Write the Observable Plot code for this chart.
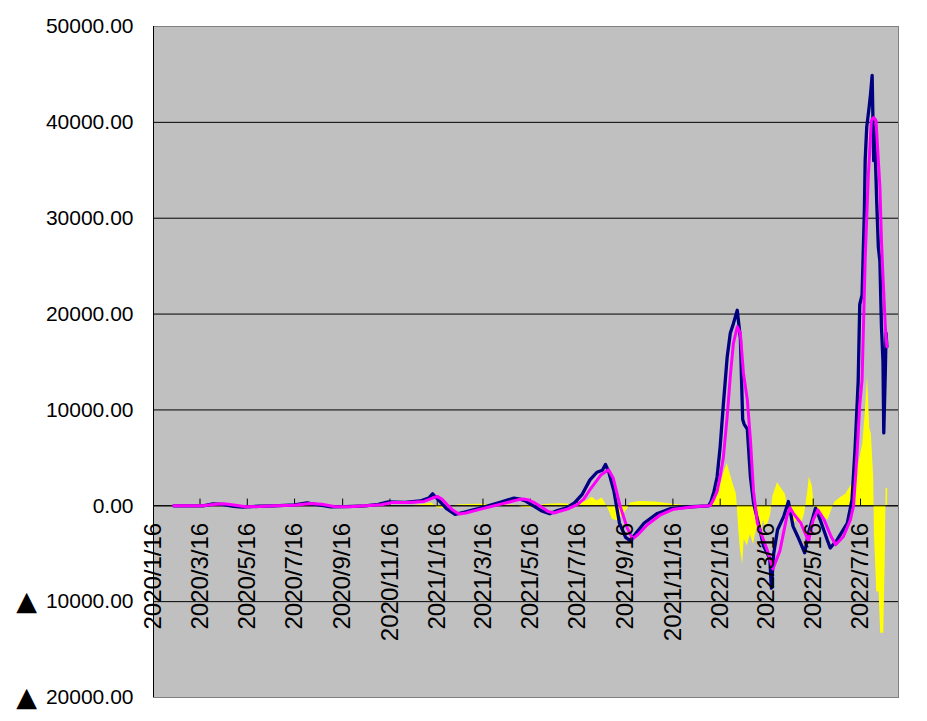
<!DOCTYPE html>
<html>
<head>
<meta charset="utf-8">
<script src="https://cdn.jsdelivr.net/npm/d3@7"></script>
<script src="https://cdn.jsdelivr.net/npm/@observablehq/plot@0.6"></script>
<style>
  html, body { margin: 0; padding: 0; background: #ffffff; }
  #chart svg { display: block; }
</style>
</head>
<body>
<div id="chart"></div>
<script>
// ---- Data ----
const tickLabels = ["2020/1/16","2020/3/16","2020/5/16","2020/7/16","2020/9/16","2020/11/16",
  "2021/1/16","2021/3/16","2021/5/16","2021/7/16","2021/9/16","2021/11/16",
  "2022/1/16","2022/3/16","2022/5/16","2022/7/16"];
const yTicks = [-20000, -10000, 0, 10000, 20000, 30000, 40000, 50000];
const xDomain = ["2020-01-16", "2022-09-03"];

const magentaDates = ["2020-02-11","2020-03-20","2020-04-05","2020-04-16","2020-05-01","2020-05-14","2020-06-01","2020-06-20",
  "2020-07-16","2020-08-05","2020-08-20","2020-09-05","2020-09-25","2020-10-15","2020-11-05","2020-11-18","2020-12-10",
  "2020-12-30","2021-01-10","2021-01-16","2021-01-22","2021-01-29","2021-02-05","2021-02-13","2021-02-22","2021-03-13",
  "2021-04-08","2021-04-30","2021-05-07","2021-05-14","2021-05-22","2021-06-01","2021-06-08","2021-06-16","2021-06-24",
  "2021-07-03","2021-07-16","2021-07-24","2021-08-02","2021-08-15","2021-08-25","2021-08-31","2021-09-09","2021-09-18",
  "2021-09-25","2021-10-02","2021-10-14","2021-10-31","2021-11-17","2021-12-13","2022-01-03","2022-01-07","2022-01-12",
  "2022-01-16","2022-01-20","2022-01-25","2022-01-29","2022-02-02","2022-02-07","2022-02-11","2022-02-15","2022-02-20",
  "2022-02-24","2022-02-28","2022-03-05","2022-03-09","2022-03-18","2022-03-25","2022-04-03","2022-04-12","2022-04-16",
  "2022-04-20","2022-04-30","2022-05-10","2022-05-16","2022-05-22","2022-05-30","2022-06-08","2022-06-14","2022-06-24",
  "2022-07-03","2022-07-07","2022-07-10","2022-07-13","2022-07-15","2022-07-18","2022-07-22","2022-07-26","2022-07-30",
  "2022-08-02","2022-08-05","2022-08-07","2022-08-10","2022-08-12","2022-08-14","2022-08-17","2022-08-19"];
const magentaValues = [0,0,150,220,50,-100,-80,0,
  50,250,150,-80,-100,0,100,330,350,
  450,800,980,700,100,-450,-850,-750,-350,
  170,620,700,600,300,-200,-600,-750,-550,
  -350,150,700,1800,3200,3750,2900,-50,-2300,
  -3450,-3000,-1980,-940,-350,-100,0,600,1500,
  3060,5000,9300,13470,16950,18680,18000,13820,11040,
  6875,1500,-1800,-2700,-4700,-6600,-4700,-1100,-200,
  -760,-1800,-3700,-1460,-420,-1460,-3200,-4060,-3200,
  -1460,0,3500,7500,10500,13100,25600,34300,40200,
  40500,40200,37400,33300,27700,23900,18700,16600];

const navyDates = ["2020-02-11","2020-03-20","2020-04-02","2020-04-14","2020-04-28","2020-05-10","2020-06-01","2020-06-20",
  "2020-07-16","2020-08-01","2020-08-16","2020-09-01","2020-09-20","2020-10-15","2020-11-01","2020-11-14","2020-12-05",
  "2020-12-25","2021-01-05","2021-01-10","2021-01-14","2021-01-20","2021-01-28","2021-02-08","2021-02-18","2021-03-10",
  "2021-04-05","2021-04-25","2021-05-03","2021-05-10","2021-05-18","2021-05-30","2021-06-10","2021-06-20","2021-07-01",
  "2021-07-12","2021-07-22","2021-08-01","2021-08-10","2021-08-17","2021-08-21","2021-08-25","2021-09-01","2021-09-08",
  "2021-09-16","2021-09-21","2021-09-28","2021-10-10","2021-10-27","2021-11-13","2021-12-10","2022-01-01","2022-01-04",
  "2022-01-08","2022-01-12","2022-01-16","2022-01-20","2022-01-25","2022-01-29","2022-02-02","2022-02-07","2022-02-11",
  "2022-02-14","2022-02-16","2022-02-20","2022-02-24","2022-02-28","2022-03-05","2022-03-13","2022-03-18","2022-03-21",
  "2022-03-23","2022-03-26","2022-03-31","2022-04-08","2022-04-14","2022-04-20","2022-04-26","2022-05-05","2022-05-10",
  "2022-05-19","2022-05-25","2022-06-03","2022-06-07","2022-06-16","2022-06-29","2022-07-05","2022-07-09","2022-07-13",
  "2022-07-15","2022-07-18","2022-07-21","2022-07-22","2022-07-24","2022-07-27","2022-07-29","2022-07-31","2022-08-02",
  "2022-08-03","2022-08-06","2022-08-08","2022-08-10","2022-08-12","2022-08-14","2022-08-15","2022-08-17","2022-08-18",
  "2022-08-19"];
const navyValues = [0,0,200,150,-50,-130,-50,0,
  100,300,100,-120,-80,0,150,400,350,
  500,800,1250,900,400,-300,-900,-700,-300,
  300,800,700,500,100,-500,-830,-500,-250,
  300,1200,2700,3500,3700,4300,3600,1500,-1800,
  -3300,-3600,-3000,-1800,-800,-300,-100,0,400,
  1500,3000,6200,10500,15500,18000,19000,20400,17500,
  9000,8500,8000,3000,300,-1400,-4200,-5000,-5500,
  -8600,-5000,-2500,-1100,450,-2150,-3200,-4900,-2800,
  -240,-1460,-3540,-4400,-3540,-1800,620,6000,13000,
  21000,22000,30800,36000,39500,41500,43000,44900,36000,
  39500,31500,27000,25500,18700,15000,7600,14000,18000,
  16600];

const yellowDates = ["2020-02-11","2020-12-15","2020-12-31","2021-01-09","2021-01-16","2021-01-27","2021-02-05","2021-02-15",
  "2021-03-12","2021-04-07","2021-04-27","2021-05-06","2021-05-16","2021-05-27","2021-06-07","2021-06-24","2021-07-07",
  "2021-07-19","2021-07-28","2021-08-04","2021-08-10","2021-08-17","2021-08-21","2021-08-25","2021-08-30","2021-09-06",
  "2021-09-12","2021-09-18","2021-09-22","2021-10-05","2021-10-24","2021-11-09","2021-11-26","2021-12-09","2022-01-01",
  "2022-01-06","2022-01-12","2022-01-16","2022-01-21","2022-01-25","2022-01-29","2022-02-02","2022-02-06","2022-02-09",
  "2022-02-11","2022-02-14","2022-02-16","2022-02-20","2022-02-24","2022-02-28","2022-03-05","2022-03-09","2022-03-13",
  "2022-03-16","2022-03-22","2022-03-25","2022-03-31","2022-04-05","2022-04-10","2022-04-14","2022-04-19","2022-04-25",
  "2022-04-30","2022-05-05","2022-05-09","2022-05-11","2022-05-15","2022-05-18","2022-05-23","2022-05-28","2022-06-04",
  "2022-06-08","2022-06-13","2022-06-21","2022-06-27","2022-07-03","2022-07-08","2022-07-14","2022-07-19","2022-07-22",
  "2022-07-25","2022-07-28","2022-07-30","2022-08-02","2022-08-03","2022-08-06","2022-08-09","2022-08-11","2022-08-15",
  "2022-08-17","2022-08-18","2022-08-20"];
const yellowValues = [0,0,150,300,-200,-300,0,100,
  150,100,50,-150,-200,0,150,200,150,
  300,500,900,500,800,200,-400,-1400,-1600,
  -1000,-400,300,450,400,250,50,0,0,
  300,1500,2200,3500,4400,3300,2200,1200,-2500,
  -4500,-6100,-3500,-4200,-3000,-4000,-2000,-3000,-1500,
  -2500,-1000,1000,2400,1800,1200,-500,-2000,-1500,
  -2200,-800,1500,3000,2000,-800,-1400,-1000,-1500,
  -600,400,900,1200,2000,2500,4500,6500,9500,
  13500,8000,7500,3000,-3000,-9000,-9000,-13300,-13300,
  -5000,1800,1800];

// ---- Build tables ----
const parse = d3.utcParse("%Y-%m-%d");
const toRows = (dates, values) => dates.map((d, i) => ({date: parse(d), value: values[i]}));
const magenta = toRows(magentaDates, magentaValues);
const navy = toRows(navyDates, navyValues);
const yellow = toRows(yellowDates, yellowValues);
const ticks = tickLabels.map(s => {
  const [y, m, d] = s.split("/").map(Number);
  return {date: new Date(Date.UTC(y, m - 1, d)), label: s};
});
const domain = xDomain.map(parse);
const fmt = d3.format(".2f");
const yFormat = d => fmt(Math.abs(d));
const negTicks = yTicks.filter(v => v < 0);

const chart = Plot.plot({
  width: 927,
  height: 721,
  marginLeft: 153,
  marginRight: 29,
  marginTop: 26,
  marginBottom: 24,
  style: {fontFamily: "'Liberation Sans', Arial, sans-serif", fontSize: "21px", color: "black", background: "white"},
  x: {type: "utc", domain, axis: null},
  y: {domain: [-20000, 50000], ticks: yTicks, tickFormat: yFormat, tickSize: 0, tickPadding: 20, label: null},
  marks: [
    Plot.frame({fill: "#c0c0c0", stroke: "#808080"}),
    Plot.ruleY(yTicks.filter(v => v > -20000 && v < 50000), {stroke: "black", strokeWidth: 1}),
    Plot.areaY(yellow, {x: "date", y: "value", fill: "#ffff00"}),
    Plot.ruleY([0], {stroke: "black", strokeWidth: 1}),
    Plot.ruleX(ticks, {x: "date", y1: 0, y2: 700, stroke: "black", strokeWidth: 1}),
    Plot.ruleX([domain[0]], {stroke: "black", strokeWidth: 1}),
    Plot.line(navy, {x: "date", y: "value", stroke: "#000080", strokeWidth: 3.3}),
    Plot.line(magenta, {x: "date", y: "value", stroke: "#ff00ff", strokeWidth: 3}),
    Plot.text(ticks, {x: "date", y: 0, text: "label", rotate: -90, textAnchor: "end", dy: 17,
      fontSize: 24, fill: "black", fontFamily: "'Liberation Sans', Arial, sans-serif"}),
    Plot.text(negTicks, {x: domain[0], y: d => d, text: () => "\u25B2", dx: -127, dy: 0,
      fontSize: 27, fill: "black", fontFamily: "'DejaVu Sans', sans-serif"})
  ]
});
document.getElementById("chart").appendChild(chart);
</script>
</body>
</html>
